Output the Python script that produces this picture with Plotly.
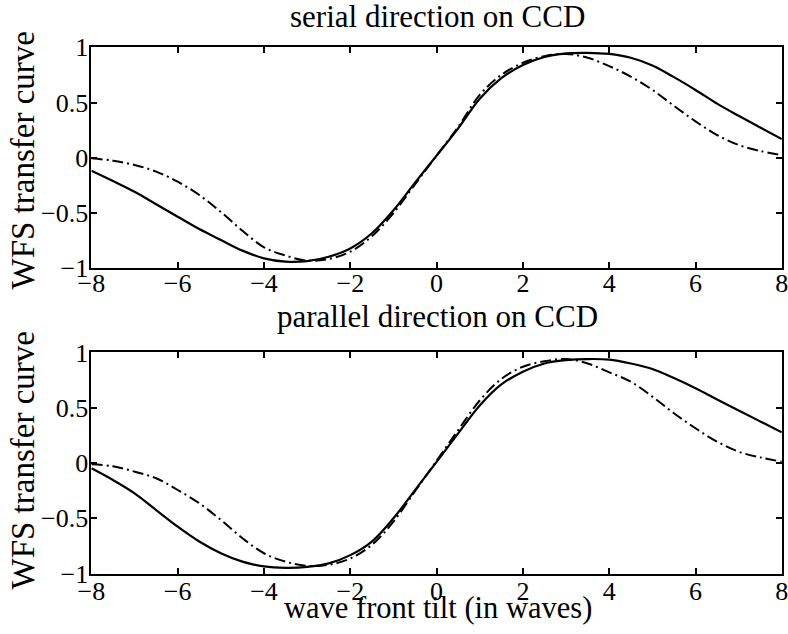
import plotly.graph_objects as go

# ---- data ----
tilt = [-8, -7.5, -7, -6.5, -6, -5.5, -5, -4.5, -4, -3.5, -3, -2.5, -2, -1.5, -1, -0.5,
        0, 0.5, 1, 1.5, 2, 2.5, 3, 3.5, 4, 4.5, 5, 5.5, 6, 6.5, 7, 7.5, 8]

serial_solid = [-0.117, -0.21, -0.307, -0.42, -0.533, -0.645, -0.744, -0.84, -0.91, -0.94,
                -0.935, -0.895, -0.82, -0.683, -0.475, -0.225, 0.02, 0.267, 0.535, 0.72,
                0.84, 0.912, 0.945, 0.95, 0.94, 0.905, 0.835, 0.73, 0.614, 0.49, 0.38,
                0.274, 0.17]
serial_dashdot = [-0.005, -0.026, -0.065, -0.125, -0.216, -0.337, -0.49, -0.66, -0.81, -0.885,
                  -0.93, -0.915, -0.85, -0.71, -0.5, -0.24, 0.02, 0.28, 0.57, 0.75,
                  0.86, 0.92, 0.94, 0.905, 0.83, 0.735, 0.615, 0.47, 0.33, 0.206, 0.116,
                  0.062, 0.025]

parallel_solid = [-0.048, -0.154, -0.274, -0.425, -0.576, -0.71, -0.816, -0.892, -0.935, -0.948,
                  -0.94, -0.908, -0.833, -0.71, -0.5, -0.245, 0.01, 0.268, 0.52, 0.71,
                  0.826, 0.9, 0.93, 0.94, 0.935, 0.9, 0.85, 0.768, 0.676, 0.575, 0.475,
                  0.376, 0.277]
parallel_dashdot = [-0.012, -0.03, -0.078, -0.138, -0.244, -0.364, -0.515, -0.68, -0.816, -0.892,
                    -0.93, -0.92, -0.863, -0.74, -0.53, -0.255, 0.02, 0.298, 0.565, 0.76,
                    0.87, 0.92, 0.94, 0.9, 0.82, 0.735, 0.6, 0.45, 0.314, 0.193, 0.102,
                    0.051, 0.012]

x_ticks = [-8, -6, -4, -2, 0, 2, 4, 6, 8]
y_ticks = [-1, -0.5, 0, 0.5, 1]
titles = ["serial direction on CCD", "parallel direction on CCD"]
y_label = "WFS transfer curve"
x_label = "wave front tilt (in waves)"

W, H = 788, 634
FONT = "Liberation Serif, Times New Roman, serif"
DASHDOT = "11px,4px,2px,4px"

fig = go.Figure()
for ax, (solid, dd) in zip(["", "2"], [(serial_solid, serial_dashdot),
                                      (parallel_solid, parallel_dashdot)]):
    fig.add_trace(go.Scatter(x=tilt, y=solid, mode="lines", xaxis="x" + ax, yaxis="y" + ax,
                             line=dict(color="black", width=2.2, shape="spline"),
                             showlegend=False, hoverinfo="skip"))
    fig.add_trace(go.Scatter(x=tilt, y=dd, mode="lines", xaxis="x" + ax, yaxis="y" + ax,
                             line=dict(color="black", width=2, shape="spline", dash=DASHDOT),
                             showlegend=False, hoverinfo="skip"))

def px_x(p):
    return p / W

def px_y(p):
    return 1 - p / H

xdom = [px_x(91.4), px_x(781.8)]
top_dom = [px_y(268.3), px_y(47.3)]
bot_dom = [px_y(573.6), px_y(352.4)]

axis_common = dict(showline=True, linecolor="black", linewidth=2, mirror="ticks",
                   ticks="inside", ticklen=6, tickwidth=1.6, tickcolor="black",
                   showgrid=False, zeroline=False, automargin=False,
                   ticklabeloverflow="allow",
                   tickfont=dict(family=FONT, size=26, color="black"))

fig.update_layout(
    width=W, height=H,
    margin=dict(l=0, r=0, t=0, b=0, autoexpand=False),
    paper_bgcolor="white", plot_bgcolor="white",
    xaxis=dict(domain=xdom, range=[-8, 8], tickvals=x_ticks, anchor="y",
               ticklabelstandoff=-10, **axis_common),
    yaxis=dict(domain=top_dom, range=[-1, 1], tickvals=y_ticks, anchor="x",
               ticklabelstandoff=-4, **axis_common),
    xaxis2=dict(domain=xdom, range=[-8, 8], tickvals=x_ticks, anchor="y2",
                ticklabelstandoff=-7, **axis_common),
    yaxis2=dict(domain=bot_dom, range=[-1, 1], tickvals=y_ticks, anchor="x2",
                ticklabelstandoff=-4, **axis_common),
)

ann = [
    dict(text=titles[0], x=px_x(437.5), y=px_y(16.5), size=31, angle=0),
    dict(text=titles[1], x=px_x(437.5), y=px_y(316.5), size=31, angle=0),
    dict(text=x_label, x=px_x(438.5), y=px_y(608), size=30.5, angle=0),
    dict(text=y_label, x=px_x(22.5), y=px_y(161), size=33, angle=-90),
    dict(text=y_label, x=px_x(22.5), y=px_y(461), size=33, angle=-90),
]
for a in ann:
    fig.add_annotation(xref="paper", yref="paper", showarrow=False, text=a["text"],
                       x=a["x"], y=a["y"], textangle=a["angle"],
                       font=dict(family=FONT, size=a["size"], color="black"),
                       xanchor="center", yanchor="middle", borderpad=0)

fig.write_html("out.html")
